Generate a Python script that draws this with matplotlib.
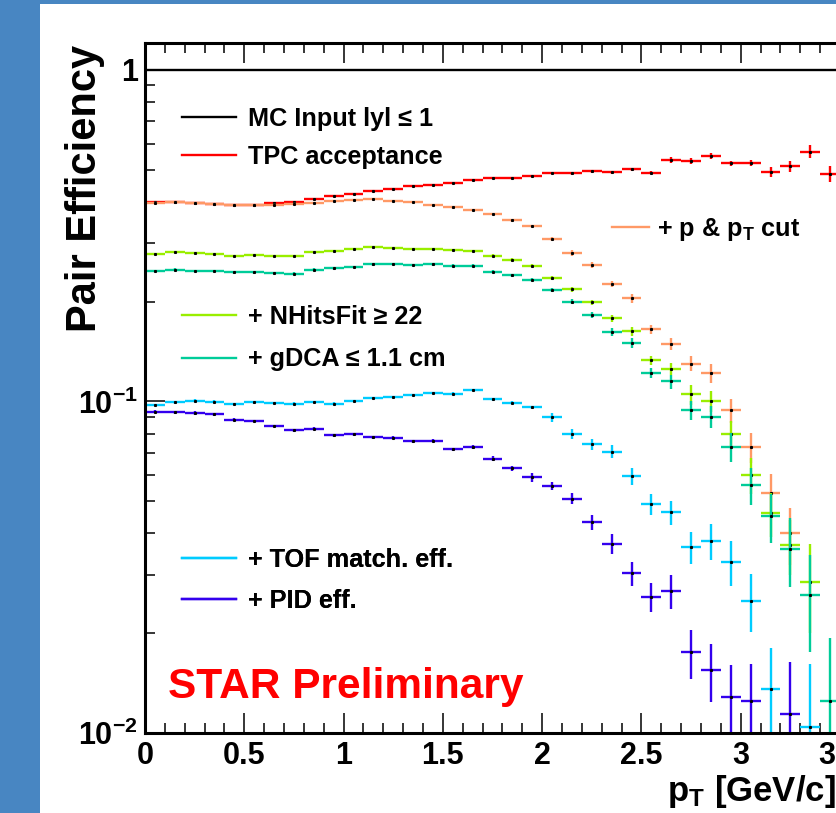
import numpy as np
import matplotlib
matplotlib.use('Agg')
import matplotlib.pyplot as plt
from matplotlib.lines import Line2D
from matplotlib.patches import Rectangle
from matplotlib.ticker import LogLocator, NullFormatter, MultipleLocator

# --- Section 1: Data (pair efficiency per 0.1 GeV/c bin, 0 - 3.5 GeV/c) ---
nan = np.nan
pt_edges = np.arange(0.0, 3.55, 0.1)
pt = 0.5 * (pt_edges[:-1] + pt_edges[1:])
half_bin = 0.05

mc_input = [1.0] * len(pt)

tpc_acc = [0.399, 0.399, 0.397, 0.394, 0.392, 0.392, 0.396, 0.399, 0.408, 0.416,
           0.423, 0.432, 0.438, 0.447, 0.450, 0.456, 0.465, 0.471, 0.473, 0.479,
           0.489, 0.488, 0.495, 0.492, 0.502, 0.490, 0.535, 0.532, 0.550, 0.523,
           0.525, 0.491, 0.512, 0.567, 0.486]
tpc_acc_err = [0.002, 0.002, 0.002, 0.002, 0.002, 0.002, 0.002, 0.002, 0.002, 0.002,
               0.003, 0.003, 0.003, 0.003, 0.003, 0.003, 0.003, 0.003, 0.003, 0.003,
               0.005, 0.005, 0.005, 0.005, 0.005, 0.005, 0.012, 0.011, 0.013, 0.009,
               0.011, 0.017, 0.021, 0.026, 0.027]

p_pt_cut = [0.398, 0.399, 0.396, 0.394, 0.391, 0.391, 0.392, 0.394, 0.398, 0.403,
            0.406, 0.408, 0.403, 0.401, 0.392, 0.385, 0.379, 0.368, 0.352, 0.338,
            0.310, 0.281, 0.258, 0.226, 0.205, 0.165, 0.149, 0.130, 0.122, 0.094,
            0.073, 0.053, 0.040, nan, nan]
p_pt_cut_err = [0.002, 0.002, 0.002, 0.002, 0.002, 0.002, 0.002, 0.002, 0.002, 0.002,
                0.002, 0.002, 0.002, 0.002, 0.002, 0.003, 0.003, 0.003, 0.003, 0.003,
                0.0043, 0.0059, 0.0054, 0.0052, 0.0067, 0.0052, 0.0062, 0.0068, 0.0080, 0.0078,
                0.0076, 0.0074, 0.0078, nan, nan]

nhitsfit = [0.279, 0.283, 0.280, 0.279, 0.275, 0.277, 0.275, 0.275, 0.283, 0.285,
            0.288, 0.292, 0.291, 0.289, 0.289, 0.286, 0.285, 0.275, 0.268, 0.257,
            0.236, 0.218, 0.199, 0.178, 0.163, 0.133, 0.125, 0.105, 0.100, 0.080,
            0.060, 0.046, 0.037, 0.0286, nan]
nhitsfit_err = [0.002, 0.002, 0.002, 0.002, 0.002, 0.002, 0.002, 0.002, 0.002, 0.002,
                0.002, 0.002, 0.002, 0.002, 0.002, 0.002, 0.002, 0.003, 0.003, 0.003,
                0.0035, 0.004, 0.004, 0.0045, 0.005, 0.0042, 0.0052, 0.0073, 0.0072, 0.0073,
                0.0075, 0.0069, 0.0070, 0.0086, nan]

gdca = [0.248, 0.250, 0.248, 0.248, 0.245, 0.245, 0.244, 0.243, 0.250, 0.252,
        0.255, 0.259, 0.260, 0.258, 0.259, 0.257, 0.257, 0.246, 0.240, 0.233,
        0.217, 0.200, 0.182, 0.162, 0.150, 0.122, 0.115, 0.094, 0.090, 0.073,
        0.056, 0.045, 0.036, 0.026, 0.0125]
gdca_err = [0.002, 0.002, 0.002, 0.002, 0.002, 0.002, 0.002, 0.002, 0.002, 0.002,
            0.002, 0.002, 0.002, 0.002, 0.002, 0.002, 0.002, 0.0025, 0.0025, 0.0025,
            0.003, 0.0035, 0.0038, 0.0045, 0.0052, 0.0043, 0.0056, 0.0063, 0.0068, 0.0073,
            0.0072, 0.0077, 0.0084, 0.0084, 0.0069]

tof_match = [0.0976, 0.0994, 0.1006, 0.0999, 0.0983, 0.0994, 0.0988, 0.0985, 0.0997, 0.0985,
             0.1001, 0.1025, 0.1032, 0.1048, 0.1061, 0.1057, 0.1081, 0.1015, 0.0992, 0.0960,
             0.0895, 0.0796, 0.0743, 0.0706, 0.0596, 0.0491, 0.0463, 0.0363, 0.0380, 0.0328,
             0.0251, 0.0136, nan, 0.0104, nan]
tof_match_err = [0.0008, 0.0008, 0.0008, 0.0008, 0.0008, 0.0008, 0.0008, 0.0008, 0.0008, 0.0008,
                 0.0008, 0.0008, 0.0008, 0.0008, 0.0008, 0.0008, 0.0008, 0.0009, 0.001, 0.001,
                 0.0027, 0.0028, 0.0027, 0.0033, 0.0036, 0.0036, 0.0039, 0.0040, 0.0048, 0.0051,
                 0.0050, 0.0044, nan, 0.0057, nan]

pid_eff = [0.0931, 0.0928, 0.0923, 0.0915, 0.0882, 0.0873, 0.0843, 0.0819, 0.0828, 0.0791,
           0.0796, 0.0781, 0.0777, 0.0759, 0.0762, 0.0718, 0.0729, 0.0672, 0.0629, 0.0590,
           0.0556, 0.0509, 0.0432, 0.0372, 0.0303, 0.0257, 0.0268, 0.0175, 0.0155, 0.0128,
           0.0125, nan, 0.0114, nan, nan]
pid_eff_err = [0.0011, 0.0011, 0.0011, 0.0011, 0.0008, 0.0008, 0.0008, 0.0008, 0.0008, 0.0008,
               0.0008, 0.0008, 0.0008, 0.0008, 0.0008, 0.0008, 0.0008, 0.0011, 0.0012, 0.0018,
               0.0017, 0.0019, 0.0022, 0.0025, 0.0025, 0.0026, 0.0031, 0.0029, 0.0031, 0.0032,
               0.0037, nan, 0.0050, nan, nan]

labels = ['MC Input lyl \u2264 1', 'TPC acceptance', r'+ p & p$_{T}$ cut',
          '+ NHitsFit \u2265 22', '+ gDCA \u2264 1.1 cm',
          '+ TOF match. eff.', '+ PID eff.']
colors = ['black', '#ff0000', '#ff9966', '#99ee00', '#00cc99', '#00ccff', '#3300ee']

xtick_vals = [0, 0.5, 1, 1.5, 2, 2.5, 3, 3.5]
xtick_labels = ['0', '0.5', '1', '1.5', '2', '2.5', '3', '3.5']
ytick_vals = [0.01, 0.1, 1]
ytick_labels = ['$10^{-2}$', '$10^{-1}$', '1']

# --- Section 2: Style ---
plt.rcParams['font.family'] = ['Liberation Sans', 'DejaVu Sans']
plt.rcParams['font.weight'] = 'bold'
plt.rcParams['axes.labelweight'] = 'bold'
plt.rcParams['mathtext.fontset'] = 'custom'
plt.rcParams['mathtext.rm'] = 'Liberation Sans:bold'
plt.rcParams['mathtext.it'] = 'Liberation Sans:bold'
plt.rcParams['mathtext.bf'] = 'Liberation Sans:bold'
plt.rcParams['mathtext.default'] = 'rm'

fig = plt.figure(figsize=(8.37, 8.13), dpi=100)
ax = fig.add_axes([145 / 837, 80 / 813, 695 / 837, 690 / 813])

# blue slide border
fig.add_artist(Rectangle((0, 0), 40 / 837, 1, transform=fig.transFigure,
                         facecolor='#4886c2', edgecolor='none'))
fig.add_artist(Rectangle((0, 1 - 4 / 813), 1, 4 / 813, transform=fig.transFigure,
                         facecolor='#4886c2', edgecolor='none'))

# --- Section 3: Histograms with error bars ---
series = [(mc_input, None), (tpc_acc, tpc_acc_err), (p_pt_cut, p_pt_cut_err),
          (nhitsfit, nhitsfit_err), (gdca, gdca_err), (tof_match, tof_match_err),
          (pid_eff, pid_eff_err)]
for (vals, errs), c in zip(series, colors):
    ax.errorbar(pt, vals, xerr=half_bin, yerr=errs, fmt='none', ecolor=c,
                elinewidth=1.7, capsize=0)
    if errs is not None:
        ax.plot(pt, vals, linestyle='none', marker='s', ms=1.2, color='black')

ax.set_yscale('log')
ax.set_xlim(0, 3.5)
ax.set_ylim(0.01, 1.206)

# --- Section 4: Axes, ticks, labels ---
ax.set_xticks(xtick_vals, labels=xtick_labels)
ax.xaxis.set_minor_locator(MultipleLocator(0.1))
ax.set_yticks(ytick_vals, labels=ytick_labels)
ax.yaxis.set_minor_locator(LogLocator(base=10, subs=np.arange(2, 10) * 1.0, numticks=10))
ax.yaxis.set_minor_formatter(NullFormatter())
ax.tick_params(which='both', direction='in', top=True, right=False, width=1.1)
ax.tick_params(which='major', length=14.4)
ax.tick_params(which='minor', length=7.2)
ax.tick_params(axis='x', labelsize=22, pad=5.5)
ax.tick_params(axis='y', labelsize=22, pad=5)
for sp in ax.spines.values():
    sp.set_linewidth(2.2)

ax.set_xlabel(r'p$_{T}$ [GeV/c]', fontsize=25, fontweight='bold', loc='right')
ax.xaxis.set_label_coords(0.994, -0.058)
ax.set_ylabel('Pair Efficiency', fontsize=30, fontweight='bold', loc='top')
ax.yaxis.set_label_coords(-0.0576, 0.997)

ax.text(0.0331, 0.0507, 'STAR Preliminary', color='red', fontsize=30.5,
        fontweight='bold', transform=ax.transAxes, ha='left', va='baseline')

# --- Section 5: Legends (ROOT style, line only) ---
handles = [Line2D([], [], color=c, lw=1.7) for c in colors]
groups = [([0, 1], (0.0532, 0.8623), 0.57, 2.15, 0.45),
          ([2], (0.672, 0.7304), 0.4, 1.46, 0.33),
          ([3, 4], (0.0532, 0.5721), 0.73, 2.15, 0.45),
          ([5, 6], (0.0532, 0.2210), 0.66, 2.15, 0.45)]
for idx, anchor, spacing, hl, tp in groups:
    leg = ax.legend([handles[i] for i in idx], [labels[i] for i in idx],
                    loc='center left', bbox_to_anchor=anchor, frameon=False,
                    fontsize=18.2, handlelength=hl, handletextpad=tp,
                    labelspacing=spacing, borderpad=0, borderaxespad=0)
    ax.add_artist(leg)

fig.savefig('out.png', dpi=100)
